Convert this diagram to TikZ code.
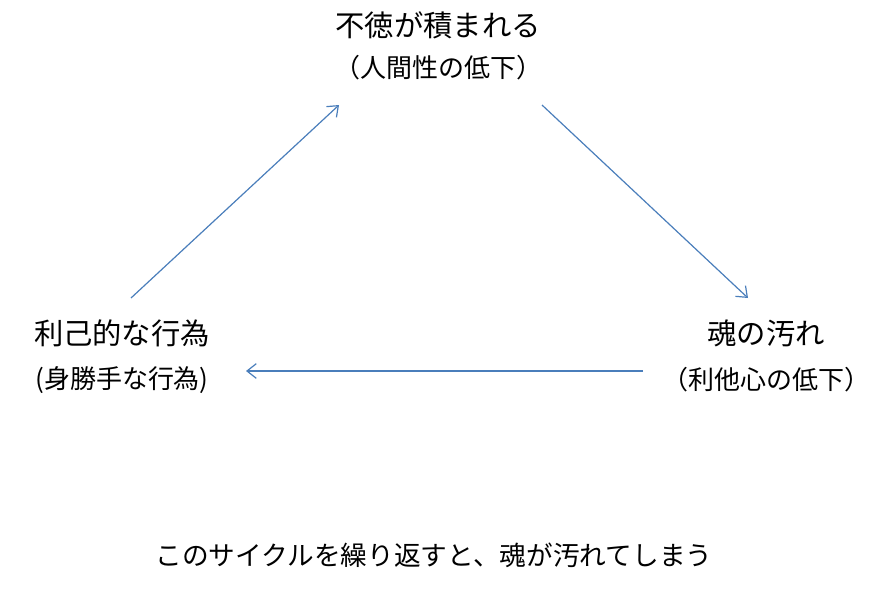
\documentclass[tikz,border=0pt]{standalone}
\usepackage{fontspec}
\newfontfamily\jp{Noto Sans CJK JP}
\usetikzlibrary{arrows.meta}
\definecolor{linkblue}{HTML}{4A7EBB}
\tikzset{
  title/.style={font=\jp\fontsize{22}{26}\selectfont, inner sep=0pt, anchor=center},
  sub/.style={font=\jp\fontsize{19.5}{23}\selectfont, inner sep=0pt, anchor=center},
  flow/.style={draw=linkblue, line width=0.9pt, -{Straight Barb[length=7pt,width=11pt]}}
}
\begin{document}
\begin{tikzpicture}[x=0.75pt,y=-0.75pt]
\useasboundingbox (0,0) rectangle (893,608);
\node[title] (t1) at (438,25) {不徳が積まれる};
\node[sub]   (t2) at (438,68) {（人間性の低下）};
\node[title] (l1) at (122,333) {利己的な行為};
\node[sub]   (l2) at (122,380) {(身勝手な行為)};
\node[title] (r1) at (766,333) {魂の汚れ};
\node[sub]   (r2) at (766,380) {（利他心の低下）};
\node[sub, font=\jp\fontsize{20}{24}\selectfont] (b) at (434,555) {このサイクルを繰り返すと、魂が汚れてしまう};
\coordinate (a1s) at (131,298);
\coordinate (a1e) at (339,105);
\coordinate (a2s) at (542,105);
\coordinate (a2e) at (748,298);
\coordinate (a3s) at (643,371);
\coordinate (a3e) at (246,371);
\draw[flow] (a1s) -- (a1e);
\draw[flow] (a2s) -- (a2e);
\draw[flow] (a3s) -- (a3e);
\end{tikzpicture}
\end{document}
